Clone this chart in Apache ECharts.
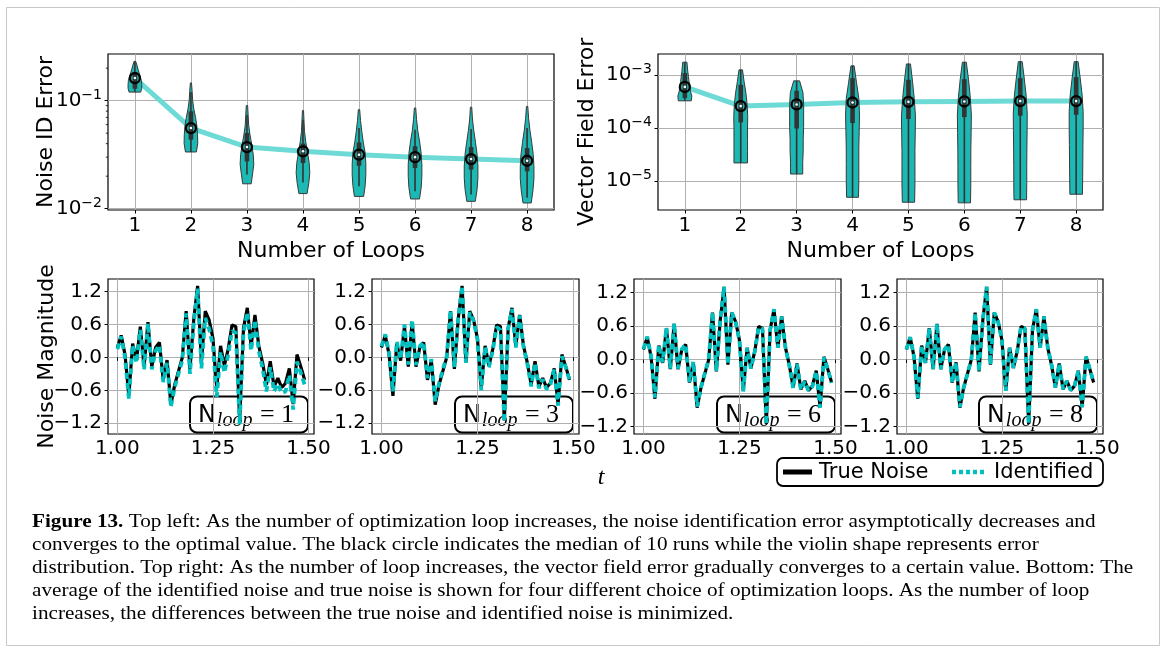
<!DOCTYPE html>
<html><head><meta charset="utf-8">
<script src="https://cdn.jsdelivr.net/npm/echarts@6/dist/echarts.min.js"></script>
<style>html,body{margin:0;padding:0;background:#fff}#c{width:1167px;height:652px}</style>
</head><body><div id="c"></div>
<script>
// ---------- DATA ----------
const loops = [1, 2, 3, 4, 5, 6, 7, 8];

// Noise ID error (top left) per loop
const noiseMax   = [0.231, 0.146, 0.090, 0.081, 0.0826, 0.0856, 0.087, 0.0885];
const noiseWhiHi = [0.231, 0.120, 0.0742, 0.0667, 0.0558, 0.0538, 0.0547, 0.0558];
const noiseQ3    = [0.1845, 0.0796, 0.0502, 0.040, 0.041, 0.0378, 0.0372, 0.0364];
const noiseMed   = [0.162, 0.0558, 0.0372, 0.0340, 0.0316, 0.0300, 0.0288, 0.0278];
const noiseQ1    = [0.129, 0.0436, 0.0274, 0.0265, 0.025, 0.0238, 0.023, 0.0222];
const noiseWhiLo = [0.120, 0.0335, 0.0207, 0.0175, 0.0161, 0.0145, 0.0135, 0.0126];
const noiseMin   = [0.120, 0.0335, 0.0170, 0.0138, 0.0130, 0.0123, 0.0117, 0.0113];
// relative violin density, bottom -> top
const noiseShape = [
  [0.85, 1.00, 1.00, 0.95, 0.80, 0.62, 0.45, 0.30, 0.12],
  [0.80, 1.00, 0.97, 0.87, 0.68, 0.42, 0.25, 0.18, 0.08],
  [0.62, 0.82, 1.00, 0.92, 0.70, 0.45, 0.25, 0.18, 0.10],
  [0.60, 0.85, 1.00, 0.90, 0.65, 0.40, 0.22, 0.15, 0.08],
  [0.68, 0.90, 1.00, 1.00, 0.90, 0.62, 0.40, 0.22, 0.10],
  [0.65, 0.90, 1.00, 1.00, 0.90, 0.68, 0.40, 0.22, 0.10],
  [0.62, 0.88, 1.00, 1.00, 0.88, 0.65, 0.40, 0.20, 0.10],
  [0.60, 0.85, 1.00, 1.00, 0.90, 0.68, 0.42, 0.22, 0.10]
];

// Vector field error (top right) per loop
const vfMax = [1.76e-3, 1.26e-3, 7.8e-4, 1.5e-3, 1.63e-3, 1.76e-3, 1.8e-3, 1.8e-3];
const vfQ3  = [1.09e-3, 6.56e-4, 5.06e-4, 8.77e-4, 8.15e-4, 8.4e-4, 8.77e-4, 9.16e-4];
const vfMed = [6.0e-4, 2.6e-4, 2.79e-4, 3.04e-4, 3.13e-4, 3.18e-4, 3.23e-4, 3.23e-4];
const vfQ1  = [3.68e-4, 1.28e-4, 9.8e-5, 1.24e-4, 1.48e-4, 1.61e-4, 1.71e-4, 1.78e-4];
const vfMin = [3.27e-4, 2.19e-5, 1.35e-5, 4.9e-6, 3.95e-6, 3.85e-6, 4.4e-6, 5.6e-6];
const vfShape = [
  [0.93, 1.00, 0.80, 0.72, 0.60, 0.52, 0.43, 0.36, 0.30],
  [0.97, 0.97, 0.97, 0.97, 1.00, 0.92, 0.74, 0.48, 0.25],
  [0.87, 0.87, 0.94, 0.94, 1.00, 1.00, 1.00, 0.90, 0.42],
  [0.85, 0.90, 0.90, 0.90, 0.95, 1.00, 0.90, 0.56, 0.23],
  [0.88, 0.93, 0.93, 0.93, 0.97, 1.00, 0.83, 0.58, 0.29],
  [0.88, 0.92, 0.92, 0.93, 0.97, 1.00, 0.85, 0.60, 0.28],
  [0.90, 0.93, 0.93, 0.95, 0.98, 1.00, 0.85, 0.58, 0.28],
  [0.90, 0.93, 0.95, 0.97, 1.00, 1.00, 0.85, 0.58, 0.28]
];
const noiseMinorTicks = [0.02, 0.03, 0.04, 0.05, 0.06, 0.07, 0.08, 0.09, 0.2];

// Bottom row: noise time series
const tVals = [1.00,1.01,1.02,1.03,1.04,1.05,1.06,1.07,1.08,1.09,1.10,1.11,1.12,1.13,1.14,1.15,1.16,1.17,1.18,1.19,
               1.20,1.21,1.22,1.23,1.24,1.25,1.26,1.27,1.28,1.29,1.30,1.31,1.32,1.33,1.34,1.35,1.36,1.37,1.38,1.39,
               1.40,1.41,1.42,1.43,1.44,1.45,1.46,1.47,1.48,1.49];
const trueNoise = [0.18,0.40,0.05,-0.70,0.25,-0.06,0.56,-0.17,0.64,-0.17,0.18,0.27,-0.41,-0.05,-0.86,-0.50,-0.25,0.00,0.84,-0.21,
                   0.70,1.30,-0.09,0.84,0.68,0.35,-0.56,0.21,-0.15,0.15,0.59,0.56,-1.15,0.53,0.90,0.21,0.77,0.21,-0.10,-0.50,
                   -0.07,-0.53,-0.38,-0.55,-0.47,-0.20,-0.85,0.05,-0.17,-0.41];
const idLoop1 = [0.15,0.38,0.00,-0.75,0.22,-0.10,0.50,-0.22,0.62,-0.22,0.12,0.22,-0.45,-0.10,-0.90,-0.55,-0.30,-0.05,0.80,-0.30,
                 0.62,1.25,-0.20,0.72,0.52,0.22,-0.72,0.10,-0.28,0.05,0.48,0.45,-1.22,0.45,0.82,0.12,0.68,0.12,-0.20,-0.62,
                 -0.18,-0.62,-0.48,-0.65,-0.62,-0.32,-0.95,-0.08,-0.28,-0.50];
const idLoop3 = [0.20,0.42,0.08,-0.62,0.28,-0.03,0.60,-0.13,0.68,-0.14,0.20,0.28,-0.38,-0.03,-0.80,-0.47,-0.22,0.02,0.86,-0.18,
                 0.70,1.30,-0.10,0.82,0.66,0.33,-0.60,0.20,-0.18,0.12,0.55,0.50,-1.18,0.52,0.88,0.18,0.76,0.19,-0.12,-0.53,
                 -0.10,-0.56,-0.40,-0.58,-0.50,-0.22,-0.88,0.02,-0.18,-0.42];
const idLoop6 = [0.19,0.41,0.06,-0.68,0.26,-0.05,0.57,-0.16,0.65,-0.16,0.19,0.27,-0.40,-0.04,-0.84,-0.49,-0.24,0.01,0.85,-0.20,
                 0.70,1.30,-0.09,0.84,0.67,0.34,-0.57,0.21,-0.16,0.14,0.58,0.55,-1.16,0.53,0.90,0.21,0.77,0.21,-0.11,-0.51,
                 -0.08,-0.54,-0.39,-0.56,-0.48,-0.21,-0.86,0.04,-0.17,-0.42];
const idLoop8 = [0.18,0.40,0.05,-0.69,0.25,-0.06,0.56,-0.17,0.64,-0.17,0.18,0.27,-0.41,-0.05,-0.85,-0.50,-0.25,0.00,0.84,-0.21,
                 0.70,1.30,-0.09,0.84,0.68,0.35,-0.56,0.21,-0.15,0.15,0.59,0.56,-1.15,0.53,0.90,0.21,0.77,0.21,-0.10,-0.50,
                 -0.07,-0.53,-0.38,-0.55,-0.47,-0.20,-0.85,0.05,-0.17,-0.41];
const panelLoops = [1, 3, 6, 8];
const panelIdentified = [idLoop1, idLoop3, idLoop6, idLoop8];
const legendNames = ['True Noise', 'Identified'];

const logTicksNoise = [-2, -1];
const logTicksVF = [-5, -4, -3];
const noiseTicks = [-1.2, -0.6, 0.0, 0.6, 1.2];
const timeTicks = [1.00, 1.25, 1.50];

const captionLines = [
  ["Figure 13.", " Top left: As the number of optimization loop increases, the noise identification error asymptotically decreases and"],
  ["", "converges to the optimal value. The black circle indicates the median of 10 runs while the violin shape represents error"],
  ["", "distribution. Top right: As the number of loop increases, the vector field error gradually converges to a certain value. Bottom: The"],
  ["", "average of the identified noise and true noise is shown for four different choice of optimization loops. As the number of loop"],
  ["", "increases, the differences between the true noise and identified noise is minimized."]
];

// ---------- STYLE / LAYOUT ----------
const FONT = 'DejaVu Sans';
const VIOLIN_FILL = '#1bb8b4';
const CYAN = '#00bfbf';
const MEDLINE = '#6ddad6';
const GRIDC = '#b0b0b0';
const TICKFS = 20, NAMEFS = 22;

const grids = [
  {left: 108, top: 54, width: 446, height: 156},
  {left: 658, top: 54, width: 445, height: 156},
  {left: 108, top: 279, width: 206, height: 155},
  {left: 372, top: 279, width: 207, height: 155},
  {left: 634, top: 279, width: 207, height: 155},
  {left: 897, top: 279, width: 206, height: 155}
];
const yRanges = [[-2.012, -0.568], [-5.55, -2.6], [-1.395, 1.426], [-1.395, 1.426], [-1.33, 1.44], [-1.33, 1.44]];

const lg = Math.log10;
const minusFmt = v => (v < 0 ? '\u2212' : '') + Math.abs(v).toFixed(1);

function logLabel(v) { return '{a|10}{b|\u2212' + Math.abs(Math.round(v)) + '}'; }
const logRich = {
  a: {fontFamily: FONT, fontSize: TICKFS, color: '#000'},
  b: {fontFamily: FONT, fontSize: 14, color: '#000', padding: [0, 0, 11, 0]}
};

function violinRenderer(shape, mn, mx, q1, q3, md, wlo, whi, halfW) {
  return function (params, api) {
    const i = params.dataIndex;
    const x = loops[i];
    const lo = lg(mn[i]), hi = lg(mx[i]);
    const prof = shape[i];
    const n = prof.length;
    const hw = api.size([halfW, 0])[0];
    const cx = api.coord([x, lo])[0];
    const left = [], right = [];
    for (let j = 0; j < n; j++) {
      const y = api.coord([x, lo + (hi - lo) * j / (n - 1)])[1];
      left.push([cx - prof[j] * hw, y]);
      right.push([cx + prof[j] * hw, y]);
    }
    const pts = left.concat(right.reverse());
    const yq1 = api.coord([x, lg(q1[i])])[1];
    const yq3 = api.coord([x, lg(q3[i])])[1];
    const ymd = api.coord([x, lg(md[i])])[1];
    const ywl = api.coord([x, lg(wlo[i])])[1];
    const ywh = api.coord([x, lg(whi[i])])[1];
    return {
      type: 'group',
      children: [
        {type: 'polygon', shape: {points: pts}, style: {fill: VIOLIN_FILL, stroke: '#3a3a3a', lineWidth: 1}},
        {type: 'line', shape: {x1: cx, y1: ywl, x2: cx, y2: ywh}, style: {stroke: '#333', lineWidth: 1.6}},
        {type: 'rect', shape: {x: cx - 2.3, y: yq3, width: 4.6, height: yq1 - yq3}, style: {fill: '#333'}},
        {type: 'circle', shape: {cx: cx, cy: ymd, r: 5}, style: {fill: 'none', stroke: '#000', lineWidth: 2.3}},
        {type: 'circle', shape: {cx: cx, cy: ymd, r: 1.3}, style: {fill: '#fff'}}
      ]
    };
  };
}

const xAxes = [], yAxes = [], series = [];
const axisTickStyle = {show: true, length: 3.5, lineStyle: {color: '#000', width: 1}};

for (let g = 0; g < 2; g++) {
  xAxes.push({
    type: 'value', gridIndex: g, min: 0.52, max: 8.48,
    axisLine: {show: false},
    axisTick: Object.assign({customValues: loops}, axisTickStyle),
    axisLabel: {customValues: loops, fontFamily: FONT, fontSize: TICKFS, color: '#000', margin: 6},
    splitLine: {show: true, lineStyle: {color: GRIDC, width: 1}},
    name: 'Number of Loops', nameLocation: 'middle', nameGap: 30, nameMoveOverlap: false,
    nameTextStyle: {fontFamily: FONT, fontSize: NAMEFS, color: '#000'}
  });
  const ticks = g === 0 ? logTicksNoise : logTicksVF;
  yAxes.push({
    type: 'value', gridIndex: g, min: yRanges[g][0], max: yRanges[g][1],
    axisLine: {show: false},
    axisTick: Object.assign({customValues: ticks}, axisTickStyle),
    axisLabel: {customValues: ticks, formatter: logLabel, rich: logRich, margin: 6},
    splitLine: {show: true, lineStyle: {color: GRIDC, width: 1}},
    name: g === 0 ? 'Noise ID Error' : 'Vector Field Error',
    nameLocation: 'middle', nameGap: g === 0 ? 51 : 60, nameRotate: 90, nameMoveOverlap: false,
    nameTextStyle: {fontFamily: FONT, fontSize: NAMEFS, color: '#000'}
  });
}
for (let p = 0; p < 4; p++) {
  const g = p + 2;
  xAxes.push({
    type: 'value', gridIndex: g, min: 0.9755, max: 1.5145,
    axisLine: {show: false},
    axisTick: Object.assign({customValues: timeTicks}, axisTickStyle),
    axisLabel: {customValues: timeTicks, formatter: v => v.toFixed(2), fontFamily: FONT, fontSize: TICKFS, color: '#000', margin: 5},
    splitLine: {show: true, lineStyle: {color: GRIDC, width: 1}}
  });
  yAxes.push(Object.assign({
    type: 'value', gridIndex: g, min: yRanges[g][0], max: yRanges[g][1],
    axisLine: {show: false},
    axisTick: Object.assign({customValues: noiseTicks}, axisTickStyle),
    axisLabel: {customValues: noiseTicks, formatter: minusFmt, fontFamily: FONT, fontSize: TICKFS, color: '#000', margin: 6},
    splitLine: {show: true, lineStyle: {color: GRIDC, width: 1}}
  }, p === 0 ? {name: 'Noise Magnitude', nameLocation: 'middle', nameGap: 50, nameRotate: 90, nameMoveOverlap: false,
    nameTextStyle: {fontFamily: FONT, fontSize: NAMEFS, color: '#000'}} : {}));
}

// top-left series
series.push({
  type: 'line', xAxisIndex: 0, yAxisIndex: 0, z: 2, symbol: 'none', silent: true,
  data: loops.map((l, i) => [l, lg(noiseMed[i])]),
  lineStyle: {color: MEDLINE, width: 5}
});
series.push({
  type: 'custom', xAxisIndex: 0, yAxisIndex: 0, z: 3, silent: true,
  data: loops.map((l, i) => [l, lg(noiseMin[i]), lg(noiseMax[i])]),
  encode: {x: 0, y: [1, 2]},
  renderItem: violinRenderer(noiseShape, noiseMin, noiseMax, noiseQ1, noiseQ3, noiseMed, noiseWhiLo, noiseWhiHi, 0.122)
});
series.push({
  type: 'custom', xAxisIndex: 0, yAxisIndex: 0, z: 4, silent: true, clip: false,
  data: noiseMinorTicks.map(v => [0.52, lg(v)]),
  encode: {x: 0, y: 1},
  renderItem: function (params, api) {
    const p = api.coord([api.value(0), api.value(1)]);
    return {type: 'line', shape: {x1: p[0] - 2.2, y1: p[1], x2: p[0], y2: p[1]}, style: {stroke: '#000', lineWidth: 0.8}};
  }
});
// top-right series
series.push({
  type: 'line', xAxisIndex: 1, yAxisIndex: 1, z: 2, symbol: 'none', silent: true,
  data: loops.map((l, i) => [l, lg(vfMed[i])]),
  lineStyle: {color: MEDLINE, width: 5}
});
series.push({
  type: 'custom', xAxisIndex: 1, yAxisIndex: 1, z: 3, silent: true,
  data: loops.map((l, i) => [l, lg(vfMin[i]), lg(vfMax[i])]),
  encode: {x: 0, y: [1, 2]},
  renderItem: violinRenderer(vfShape, vfMin, vfMax, vfQ1, vfQ3, vfMed, vfMin, vfMax, 0.125)
});
// bottom panels
for (let p = 0; p < 4; p++) {
  series.push({
    name: legendNames[0], type: 'line', xAxisIndex: p + 2, yAxisIndex: p + 2, z: 2, symbol: 'none', silent: true,
    data: tVals.map((t, k) => [t, trueNoise[k]]),
    lineStyle: {color: '#000', width: 3.2}, itemStyle: {color: '#000'}
  });
  series.push({
    name: legendNames[1], type: 'line', xAxisIndex: p + 2, yAxisIndex: p + 2, z: 3, symbol: 'none', silent: true,
    data: tVals.map((t, k) => [t, panelIdentified[p][k]]),
    lineStyle: {color: CYAN, width: 3.8, type: [6, 4]}, itemStyle: {color: CYAN}
  });
}

// graphics: N_loop boxes, legend, t label, caption, frame
const graphics = [];
graphics.push({type: 'rect', z: 0, silent: true, shape: {x: 6.5, y: 7.5, width: 1153, height: 638},
  style: {fill: 'none', stroke: '#c8c8c8', lineWidth: 1}});
for (let p = 0; p < 4; p++) {
  const gr = grids[p + 2];
  const bw = 118, bh = 36;
  const bx = gr.left + gr.width - 6 - bw, by = gr.top + gr.height - 1.5 - bh;
  graphics.push({
    type: 'group', z: 100, silent: true,
    children: [
      {type: 'rect', shape: {x: bx, y: by, width: bw, height: bh, r: 7}, style: {fill: '#fff', stroke: '#000', lineWidth: 2}},
      {type: 'text', x: bx + bw / 2 - 3, y: by + bh / 2 + 1, style: {
        text: '{n|N}{s|loop}{e| = ' + panelLoops[p] + '}', align: 'center', verticalAlign: 'middle',
        rich: {
          n: {fontFamily: FONT, fontSize: 24, color: '#000', lineHeight: 30},
          s: {fontFamily: 'Liberation Serif', fontStyle: 'italic', fontSize: 20, color: '#000', lineHeight: 20, verticalAlign: 'bottom', padding: [0, 1, 0, 1]},
          e: {fontFamily: 'Liberation Serif', fontSize: 26, color: '#000', lineHeight: 30}
        }}}
    ]
  });
}
// legend box (bottom right)
(function () {
  const lx = 777, ly = 458, lw = 326, lh = 28, cy = ly + lh / 2;
  graphics.push({
    type: 'group', z: 100, silent: true,
    children: [
      {type: 'rect', shape: {x: lx, y: ly, width: lw, height: lh, r: 6}, style: {fill: '#fff', stroke: '#000', lineWidth: 1.8}},
      {type: 'line', shape: {x1: lx + 6, y1: cy, x2: lx + 35, y2: cy}, style: {stroke: '#000', lineWidth: 5}},
      {type: 'text', x: lx + 42, y: cy + 1, style: {text: legendNames[0], fontFamily: FONT, fontSize: 21, fill: '#000', verticalAlign: 'middle'}},
      {type: 'line', shape: {x1: lx + 175, y1: cy, x2: lx + 208, y2: cy}, style: {stroke: CYAN, lineWidth: 4.5, lineDash: [4, 3]}},
      {type: 'text', x: lx + 217, y: cy + 1, style: {text: legendNames[1], fontFamily: FONT, fontSize: 21, fill: '#000', verticalAlign: 'middle'}}
    ]
  });
})();
graphics.push({type: 'text', z: 100, silent: true, x: 601, y: 478, style: {
  text: 't', font: 'italic 24px "Liberation Serif"', fill: '#000', align: 'center', verticalAlign: 'middle'}});
captionLines.forEach((ln, i) => {
  graphics.push({type: 'text', z: 100, silent: true, x: 32, y: 522 + i * 23, scaleX: 1.115, style: {
    text: (ln[0] ? '{b|' + ln[0] + '}' : '') + '{r|' + ln[1] + '}',
    verticalAlign: 'middle', align: 'left',
    rich: {
      b: {fontFamily: 'Liberation Serif', fontWeight: 'bold', fontSize: 19, color: '#1a1a1a'},
      r: {fontFamily: 'Liberation Serif', fontSize: 19, color: '#1a1a1a'}
    }}});
});

const chart = echarts.init(document.getElementById('c'), null, {renderer: 'canvas'});
chart.setOption({
  backgroundColor: '#fff',
  animation: false,
  grid: grids.map(g => Object.assign({show: true, borderColor: '#000', borderWidth: 1.2, backgroundColor: 'transparent', containLabel: false}, g)),
  xAxis: xAxes,
  yAxis: yAxes,
  series: series,
  graphic: graphics
});
</script></body></html>
